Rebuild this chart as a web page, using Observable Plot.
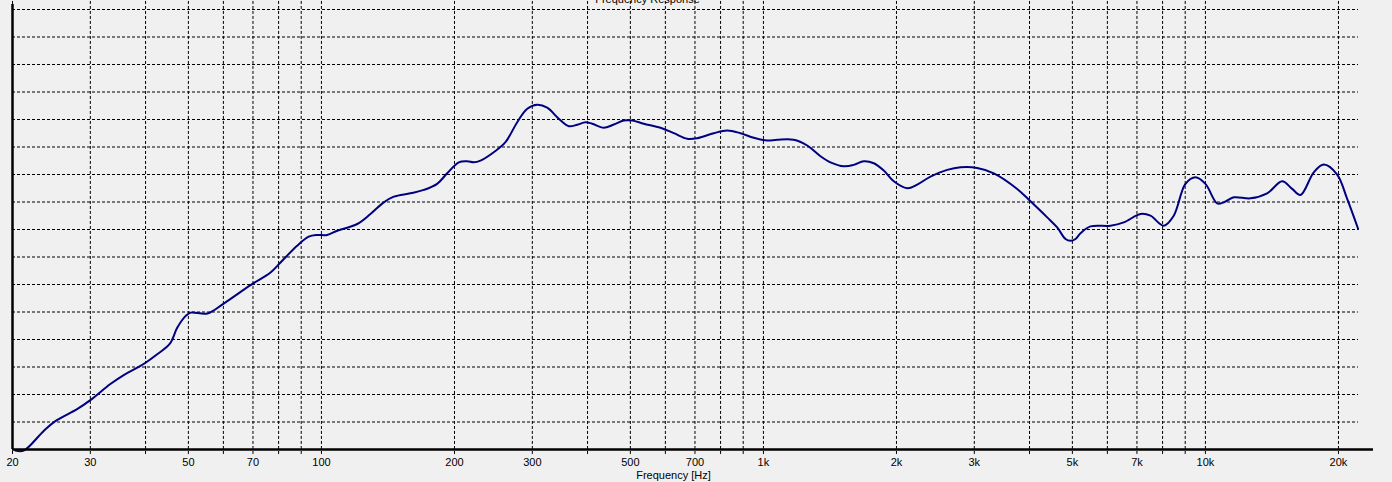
<!DOCTYPE html>
<html>
<head>
<meta charset="utf-8">
<script src="https://cdn.jsdelivr.net/npm/d3@7"></script>
<script src="https://cdn.jsdelivr.net/npm/@observablehq/plot@0.6"></script>
<style>
  html, body { margin: 0; padding: 0; background: #f0f0f0; }
  #chart { width: 1392px; height: 482px; overflow: hidden; }
</style>
</head>
<body>
<div id="chart"></div>
<script>
// Frequency response (Hz) and level (dB, relative grid of 5 dB per division)
const freqs = [20.3, 21.2, 23.5, 25.0, 28.0, 30.0, 33.3, 35.7, 38.3, 40.0, 42.5, 45.4, 47.2, 49.3, 50.6, 55.2, 60.1, 69.1,
  76.7, 80.8, 88.1, 93.6, 97.8, 103, 108.6, 120.5, 129.1, 138.4, 145.8, 159, 170.5, 182.7, 192.5, 204.5, 213.7, 221.2, 229,
  245.4, 260.8, 277.3, 292.2, 307.8, 324.2, 344.4, 362.8, 379, 395.8, 409.8, 435.3, 458.6, 483.2, 504.8, 536.2, 585, 626.9,
  672.3, 708.3, 772.2, 828.1, 887.3, 950.9, 1019.7, 1074, 1171, 1256, 1346, 1418, 1520, 1601, 1687, 1777, 1872, 1972,
  2115, 2228, 2388, 2605, 2792, 3045, 3321, 3751, 4020, 4386, 4620, 4825, 4952, 5083, 5217, 5496, 6099, 6536, 7130, 7511,
  8048, 8479, 9012, 9494, 10001, 10634, 11006, 11594, 12643, 13794, 14917, 15714, 16409, 17586, 18527, 19865, 20928, 22162];
const levels = [39.8, 39.8, 43.33, 45.16, 47.34, 48.98, 51.90, 53.54, 54.87, 55.78, 57.31, 59.24, 62.16, 64.29, 64.89, 64.71, 66.53, 69.88,
  72.18, 74.00, 77.05, 78.69, 79.00, 79.00, 79.78, 81.00, 82.82, 84.94, 85.97, 86.58, 87.20, 88.29, 90.22, 92.22, 92.41, 92.22, 92.53,
  94.05, 95.87, 99.51, 101.95, 102.68, 102.14, 100.13, 98.78, 99.04, 99.51, 99.22, 98.49, 99.09, 99.82, 99.82, 99.22, 98.49, 97.51,
  96.49, 96.60, 97.51, 98.00, 97.51, 96.67, 96.18, 96.31, 96.31, 95.27, 93.32, 92.22, 91.50, 91.75, 92.41, 92.04, 90.71, 88.76,
  87.49, 88.16, 89.62, 90.84, 91.31, 91.20, 90.22, 87.38, 85.12, 82.20, 80.38, 78.27, 77.96, 78.27, 79.32, 80.56, 80.69, 81.29, 82.82, 82.51,
  80.69, 82.51, 88.29, 89.49, 88.29, 84.75, 84.94, 85.85, 85.67, 86.58, 88.76, 87.38, 86.28, 90.40, 91.81, 89.98, 85.56, 80.09];

const gridFreqs = [20, 30, 40, 50, 60, 70, 80, 90, 100, 200, 300, 400, 500, 600, 700, 800, 900,
  1000, 2000, 3000, 4000, 5000, 6000, 7000, 8000, 9000, 10000, 20000];
const tickFreqs = [20, 30, 50, 70, 100, 200, 300, 500, 700, 1000, 2000, 3000, 5000, 7000, 10000, 20000];
const tickLabels = ["20", "30", "50", "70", "100", "200", "300", "500", "700", "1k", "2k", "3k", "5k", "7k", "10k", "20k"];
const gridLevels = [45, 50, 55, 60, 65, 70, 75, 80, 85, 90, 95, 100, 105, 110, 115, 120];
const titleText = "Frequency Response";
const xLabel = "Frequency [Hz]";

const curve = freqs.map((f, i) => ({f, db: levels[i]}));
const ticks = tickFreqs.map((f, i) => ({f, label: tickLabels[i]}));

const chart = Plot.plot({
  width: 1392,
  height: 482,
  marginLeft: 12,
  marginRight: 34,
  marginTop: 9,
  marginBottom: 33,
  x: {type: "log", domain: [20, 22200], axis: null},
  y: {domain: [40, 120], axis: null},
  style: {background: "#f0f0f0", fontFamily: "'Liberation Sans', Arial, sans-serif", fontSize: "11px", color: "#000", overflow: "visible"},
  marks: [
    Plot.ruleY(gridLevels, {x1: 20, x2: 22200, stroke: "#000", strokeWidth: 1, strokeDasharray: "3,2"}),
    Plot.ruleX(gridFreqs, {y1: 39.1, y2: 121.7, stroke: "#000", strokeWidth: 1, strokeDasharray: "3,2"}),
    Plot.line(curve, {x: "f", y: "db", stroke: "#000080", strokeWidth: 2, curve: "catmull-rom"}),
    Plot.ruleY([40], {x1: 20, x2: 24000, stroke: "#000", strokeWidth: 2.5}),
    Plot.ruleX([20], {y1: 40, y2: 120.9, stroke: "#000", strokeWidth: 2.5}),
    Plot.text(ticks, {x: "f", y: 40, text: "label", dy: 13, fill: "#000", fontSize: 11}),
    Plot.text([xLabel], {frameAnchor: "bottom", dx: -12, dy: 29, fill: "#000", fontSize: 11}),
    Plot.text([titleText], {frameAnchor: "top", dx: -38, dy: -14, fill: "#000", fontSize: 11})
  ]
});
document.getElementById("chart").appendChild(chart);
</script>
</body>
</html>
